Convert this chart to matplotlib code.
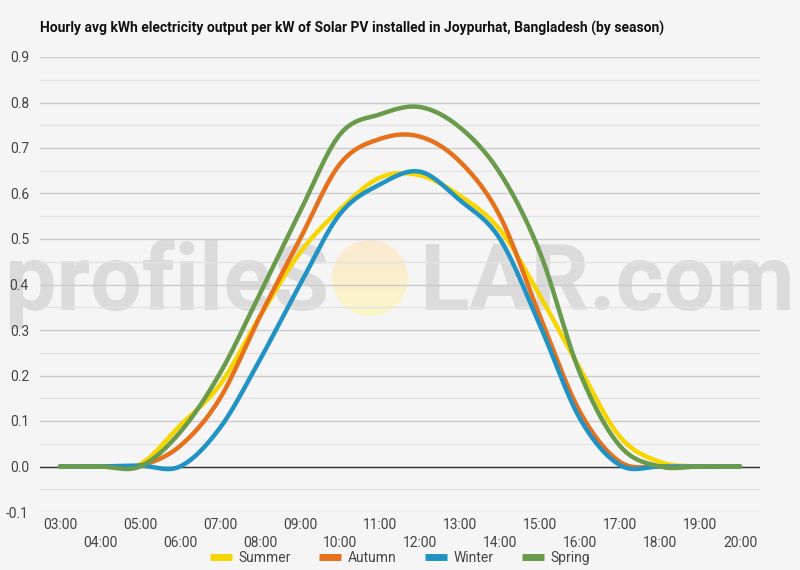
import numpy as np
import matplotlib
matplotlib.use("Agg")
import matplotlib.pyplot as plt
from matplotlib import font_manager
from matplotlib.patches import Circle

names = set(f.name for f in font_manager.fontManager.ttflist)
cond = "Liberation Sans Narrow" if "Liberation Sans Narrow" in names else "Roboto"
plt.rcParams['font.family'] = [cond, 'DejaVu Sans']

hours = list(range(3, 21))
hour_labels = ["%02d:00" % h for h in hours]

summer = [0, 0, 0.005, 0.09, 0.18, 0.33, 0.47, 0.565, 0.635, 0.64, 0.595, 0.52, 0.375, 0.215, 0.065, 0.01, 0, 0]
autumn = [0, 0, 0.002, 0.045, 0.15, 0.33, 0.50, 0.665, 0.72, 0.725, 0.67, 0.55, 0.33, 0.12, 0.01, 0, 0, 0]
winter = [0, 0, 0.002, 0.0, 0.085, 0.235, 0.40, 0.555, 0.62, 0.648, 0.585, 0.50, 0.31, 0.105, 0.003, 0, 0, 0]
spring = [0, 0, 0, 0.075, 0.205, 0.38, 0.56, 0.73, 0.774, 0.79, 0.745, 0.645, 0.47, 0.205, 0.045, 0, 0, 0]

seasons = ["Summer", "Autumn", "Winter", "Spring"]
colors = ["#f7d600", "#e6711d", "#2192c4", "#6a9a4c"]


def smooth(x, y, n=25):
    # catmull-rom, like the google charts "function" curve
    x = np.asarray(x, float)
    y = np.asarray(y, float)
    ye = np.concatenate([[y[0]], y, [y[-1]]])
    xs, ys = [], []
    for i in range(len(y) - 1):
        m0 = (ye[i + 2] - ye[i]) / 2
        m1 = (ye[i + 3] - ye[i + 1]) / 2
        t = np.linspace(0, 1, n)
        h00 = 2*t**3 - 3*t**2 + 1
        h10 = t**3 - 2*t**2 + t
        h01 = -2*t**3 + 3*t**2
        h11 = t**3 - t**2
        xs.append(x[i] + t * (x[i + 1] - x[i]))
        ys.append(h00*y[i] + h10*m0 + h01*y[i + 1] + h11*m1)
    return np.concatenate(xs), np.concatenate(ys)


bg = "#f5f5f5"
fig = plt.figure(figsize=(8, 5.7), dpi=100, facecolor=bg)
ax = fig.add_axes([0.05, 1 - 512/570, 0.90, 455/570])
ax.set_facecolor(bg)

ax.set_xlim(2.5, 20.5)
ax.set_ylim(-0.1, 0.9)
ax.set_yticks(np.arange(-0.1, 0.91, 0.1))
ax.set_yticklabels(["%.1f" % v for v in np.arange(-0.1, 0.91, 0.1)])
ax.set_yticks(np.arange(-0.05, 0.9, 0.1), minor=True)
ax.grid(True, which="major", axis="y", color="#cccccc", lw=1)
ax.grid(True, which="minor", axis="y", color="#e3e3e3", lw=1)
ax.axhline(0, color="#333333", lw=1, zorder=2)

ax.set_xticks(hours[::2])
ax.set_xticklabels(hour_labels[::2])
ax.set_xticks(hours[1::2], minor=True)
ax.set_xticklabels(hour_labels[1::2], minor=True)
ax.tick_params(axis="x", which="major", length=0, pad=4, labelsize=10, labelcolor="#444444")
ax.tick_params(axis="x", which="minor", length=0, pad=17, labelsize=10, labelcolor="#444444")
ax.tick_params(axis="y", which="both", length=0, pad=8, labelsize=10, labelcolor="#444444")
for s in ax.spines.values():
    s.set_visible(False)

# watermark
fig.text(5/800, 1 - 310/570, "profileS", fontsize=66, fontweight="bold", family="Roboto",
         color="#999999", alpha=0.28, ha="left", va="baseline", zorder=3)
fig.text(795/800, 1 - 310/570, "LAR.com", fontsize=66, fontweight="bold", family="Roboto",
         color="#999999", alpha=0.28, ha="right", va="baseline", zorder=3)
grad = np.linspace(0, 1, 100)[:, None]
sun_cmap = matplotlib.colors.LinearSegmentedColormap.from_list("sun", ["#fcf6c2", "#fbe9cf"])
sun_ax = fig.add_axes([332/800, 1 - 316/570, 76/800, 76/570], zorder=2)
sun_ax.axis("off")
im = sun_ax.imshow(grad, cmap=sun_cmap, extent=[0, 1, 0, 1], aspect="auto", alpha=0.9)
im.set_clip_path(Circle((0.5, 0.5), 0.5, transform=sun_ax.transData))
sun_ax.set_xlim(0, 1)
sun_ax.set_ylim(1, 0)

ax.set_zorder(4)
ax.patch.set_alpha(0)

for name, vals, c in zip(seasons, [summer, autumn, winter, spring], colors):
    xs, ys = smooth(hours, vals)
    ax.plot(xs, ys, color=c, lw=3.2, label=name, solid_capstyle="round", zorder=3)

fig.text(40/800, 1 - 28/570, "Hourly avg kWh electricity output per kW of Solar PV installed in Joypurhat, Bangladesh (by season)",
         fontsize=10, fontweight="bold", color="#111111", ha="left", va="center")

leg = fig.legend(loc="center", bbox_to_anchor=(0.5, 1 - 558/570), ncol=4, frameon=False,
                 fontsize=10, handlelength=1.6, handletextpad=0.5, columnspacing=2.0)
for h in leg.legend_handles:
    h.set_linewidth(5)
    h.set_solid_capstyle("butt")
for t in leg.get_texts():
    t.set_color("#444444")

fig.savefig("out.png", dpi=100, facecolor=bg)
